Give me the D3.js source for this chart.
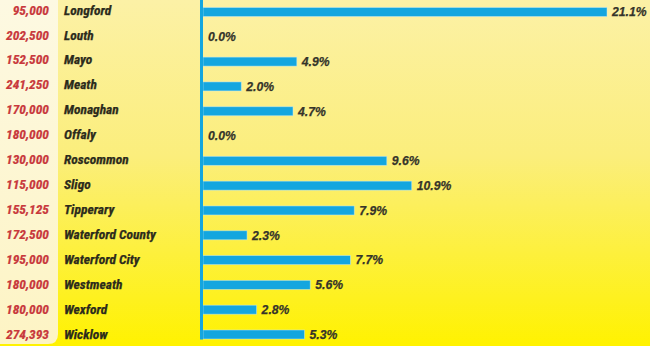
<!DOCTYPE html>
<html><head><meta charset="utf-8">
<script src="https://cdn.jsdelivr.net/npm/d3@7"></script>
<style>
html,body{margin:0;padding:0;background:#fff;}
svg{display:block;}
</style></head>
<body>
<script>
const counties = ["Longford","Louth","Mayo","Meath","Monaghan","Offaly","Roscommon","Sligo","Tipperary","Waterford County","Waterford City","Westmeath","Wexford","Wicklow"];
const prices = ["95,000","202,500","152,500","241,250","170,000","180,000","130,000","115,000","155,125","172,500","195,000","180,000","180,000","274,393"];
const changes = [21.1,0.0,4.9,2.0,4.7,0.0,9.6,10.9,7.9,2.3,7.7,5.6,2.8,5.3];

const W = 650, H = 346;
const svg = d3.select("body").append("svg").attr("width", W).attr("height", H);
const defs = svg.append("defs");
const g1 = defs.append("linearGradient").attr("id","bg").attr("x1",0).attr("y1",0).attr("x2",0).attr("y2",1);
g1.append("stop").attr("offset","0%").attr("stop-color","#fcf1a6");
g1.append("stop").attr("offset","45%").attr("stop-color","#fbee7c");
g1.append("stop").attr("offset","100%").attr("stop-color","#fff200");
const g2 = defs.append("linearGradient").attr("id","lp").attr("x1",0).attr("y1",0).attr("x2",0).attr("y2",1);
g2.append("stop").attr("offset","0%").attr("stop-color","#fdf9e2");
g2.append("stop").attr("offset","100%").attr("stop-color","#fdf4c4");

svg.append("rect").attr("width",W).attr("height",H).attr("fill","url(#bg)");
svg.append("path").attr("d","M0,0 H58 V334 Q58,344 48,344 H0 Z").attr("fill","url(#lp)");

const x = d3.scaleLinear().domain([0, 21.1]).range([203, 607]);
const yBar = d3.scalePoint().domain(counties).range([12, 334.5]);
const yLab = d3.scalePoint().domain(counties).range([9.8, 333.8]);

const condensed = "'Liberation Sans Narrow','Arial Narrow','Roboto Condensed','DejaVu Sans Condensed',sans-serif";

// bars
svg.append("g").selectAll("rect").data(counties).join("rect")
  .attr("x", x(0))
  .attr("y", d => yBar(d) - 4.5)
  .attr("width", (d,i) => x(changes[i]) - x(0))
  .attr("height", 9)
  .attr("fill", "#14a6df")
  .attr("stroke", "rgba(200,235,245,0.6)")
  .attr("stroke-width", 0.8);

// axis line
svg.append("line").attr("x1",201.5).attr("x2",201.5).attr("y1",0).attr("y2",339.5)
  .attr("stroke","#14a6df").attr("stroke-width",3);

// value labels
svg.append("g").selectAll("text").data(counties).join("text")
  .attr("x", (d,i) => x(changes[i]) + 5)
  .attr("y", d => yBar(d) + 4.4)
  .attr("font-family","'Liberation Sans',Arial,sans-serif")
  .attr("font-weight","bold").attr("font-style","italic")
  .attr("font-size",12.2).attr("fill","#35342a")
  .attr("stroke","#35342a").attr("stroke-width",0.25)
  .text((d,i) => d3.format(".1f")(changes[i]) + "%");

// price labels
svg.append("g").selectAll("text").data(counties).join("text")
  .attr("x", 49).attr("y", d => yLab(d) + 4.8)
  .attr("text-anchor","end")
  .attr("font-family",condensed)
  .attr("font-weight","bold").attr("font-style","italic")
  .attr("font-size",13.5).attr("fill","#c8383c")
  .attr("stroke","#c8383c").attr("stroke-width",0.2)
  .text((d,i) => prices[i]);

// county names
svg.append("g").selectAll("text").data(counties).join("text")
  .attr("x", 64).attr("y", d => yLab(d) + 4.8)
  .attr("font-family",condensed)
  .attr("font-weight","bold").attr("font-style","italic")
  .attr("font-size",13.5).attr("fill","#2c2b1c")
  .attr("stroke","#2c2b1c").attr("stroke-width",0.25)
  .text(d => d);
</script>
</body></html>
